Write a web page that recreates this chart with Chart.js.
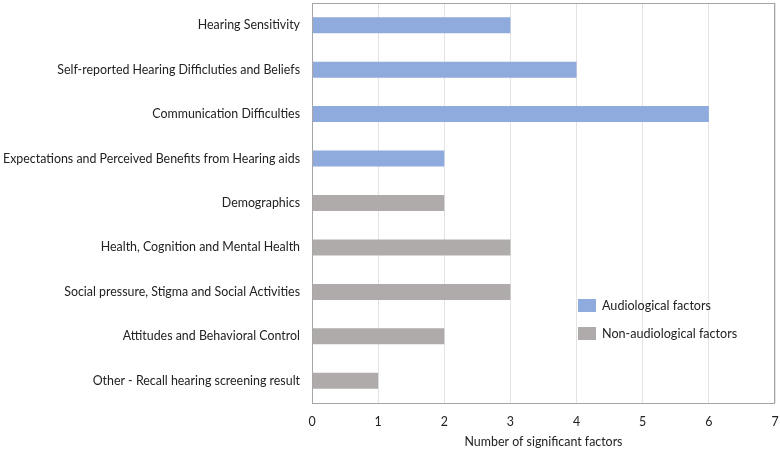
<!DOCTYPE html>
<html lang="en">
<head>
  <meta charset="UTF-8" />
  <title>Significant factors</title>
  <script src="https://cdn.jsdelivr.net/npm/chart.js"></script>
  <style>
    body { margin: 0; background: #fff; font-family: Lato, sans-serif; }
    #wrap { position: relative; width: 780px; height: 449px; }
    #legend { position: absolute; left: 578px; top: 291px; font-size: 12.6px; color: #222; }
    #legend div { display: flex; align-items: center; height: 28px; }
    #legend span.sw { display: inline-block; width: 18px; height: 13px; margin-right: 6px; }
  </style>
</head>
<body>
  <div id="wrap">
    <canvas id="chart" width="780" height="449"></canvas>
    <div id="legend"></div>
  </div>

  <script>
    const categories = [
      'Hearing Sensitivity',
      'Self-reported Hearing Difficluties and Beliefs',
      'Communication Difficulties',
      'Expectations and Perceived Benefits from Hearing aids',
      'Demographics',
      'Health, Cognition and Mental Health',
      'Social pressure, Stigma and Social Activities',
      'Attitudes and Behavioral Control',
      'Other - Recall hearing screening result'
    ];
    const audiological = [3, 4, 6, 2, null, null, null, null, null];
    const nonAudiological = [null, null, null, null, 2, 3, 3, 2, 1];
    const xTicks = [0, 1, 2, 3, 4, 5, 6, 7];

    const colors = { audio: '#8faadc', nonAudio: '#afabab' };
    const labelFont = { family: 'Lato', size: 12.4 };

    // box round the plot area
    const frame = {
      id: 'frame',
      afterDraw(chart) {
        const a = chart.chartArea, c = chart.ctx;
        c.save();
        c.strokeStyle = '#a6a6a6';
        c.lineWidth = 1;
        c.strokeRect(a.left + 0.5, a.top + 0.5, a.right - a.left - 1, a.bottom - a.top);
        c.restore();
      }
    };

    const chart = new Chart(document.getElementById('chart'), {
      type: 'bar',
      data: {
        labels: categories,
        datasets: [
          { label: 'Audiological factors', data: audiological, backgroundColor: colors.audio },
          { label: 'Non-audiological factors', data: nonAudiological, backgroundColor: colors.nonAudio }
        ]
      },
      options: {
        indexAxis: 'y',
        responsive: false,
        animation: false,
        layout: { padding: { top: 3, right: 0, left: 0, bottom: 0 } },
        datasets: { bar: { barPercentage: 0.36, categoryPercentage: 1 } },
        plugins: { legend: { display: false }, tooltip: { enabled: false } },
        scales: {
          x: {
            min: 0, max: 7,
            afterBuildTicks: s => { s.ticks = xTicks.map(v => ({ value: v })); },
            grid: { color: '#e3e3e3', drawTicks: false },
            border: { display: false },
            ticks: { color: '#222', font: labelFont, padding: 12 },
            title: { display: true, text: 'Number of significant factors', color: '#222',
                     font: labelFont, padding: { top: 2, bottom: 0 } },
            afterFit: s => { s.height = 46; s.paddingRight = 5; }
          },
          y: {
            stacked: true,
            grid: { display: false },
            border: { display: false },
            ticks: { color: '#222', font: labelFont, padding: 4 },
            afterFit: s => { s.width = 312; s.paddingTop = 0; s.paddingBottom = 0; }
          }
        }
      },
      plugins: [frame]
    });

    const legend = document.getElementById('legend');
    chart.data.datasets.forEach(ds => {
      const row = document.createElement('div');
      row.innerHTML = '<span class="sw" style="background:' + ds.backgroundColor + '"></span>' + ds.label;
      legend.appendChild(row);
    });
  </script>
</body>
</html>
